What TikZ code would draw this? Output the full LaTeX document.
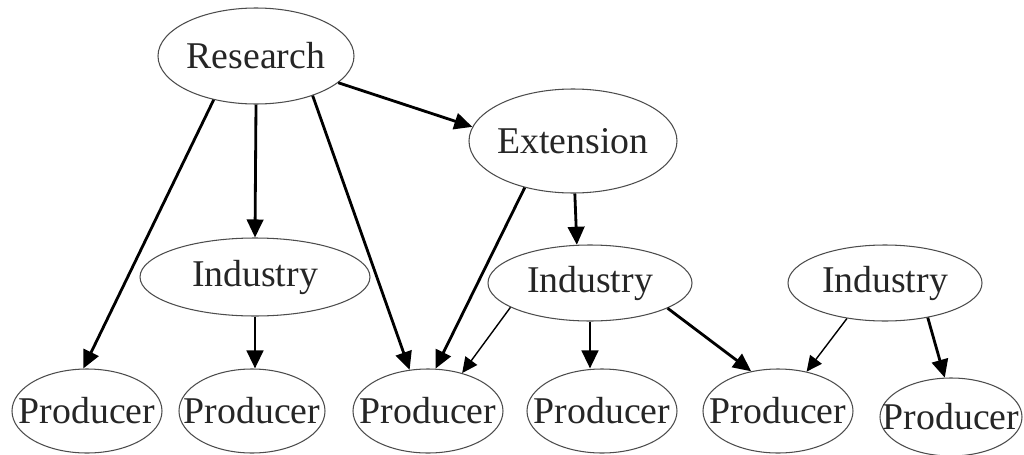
\documentclass[tikz,border=0pt]{standalone}
\usepackage{fontspec}
\setmainfont{Liberation Serif}
\usetikzlibrary{arrows.meta,shapes.geometric}

\newcommand{\nm}[1]{\makebox[0pt]{#1}}

\begin{document}
\begin{tikzpicture}[x=0.2mm, y=-0.2mm,
		blob/.style={ellipse, draw=black!70, line width=0.6pt, inner sep=0pt, text=black!85, font=\fontsize{21.5}{24}\selectfont},
		link/.style={line width=1.6pt, -{Triangle[length=3.6mm, width=3.3mm]}},
		thinlink/.style={line width=0.8pt, -{Triangle[length=3.1mm, width=2.9mm]}}]
	\useasboundingbox (0,0) rectangle (1024,455);

	%%draw the top nodes
	\node[blob, minimum width=3.92cm, minimum height=1.92cm] (research) at (256,56){\nm{Research}};
	\node[blob, minimum width=4.16cm, minimum height=2.08cm] (extension) at (573,141){\nm{Extension}};

	%%draw the industries
	\node[blob, minimum width=4.6cm, minimum height=1.56cm] (industryA) at (255,277){\nm{Industry}};
	\node[blob, minimum width=4.08cm, minimum height=1.52cm] (industryB) at (590,283){\nm{Industry}};
	\node[blob, minimum width=3.88cm, minimum height=1.52cm] (industryC) at (885,283){\nm{Industry}};

	%%draw the producers
	\node[blob, minimum width=3cm, minimum height=1.68cm] (producerA) at (87,411){\nm{Producer}};
	\node[blob, minimum width=2.92cm, minimum height=1.68cm] (producerB) at (252,411){\nm{Producer}};
	\node[blob, minimum width=3cm, minimum height=1.68cm] (producerC) at (428,411){\nm{Producer}};
	\node[blob, minimum width=3cm, minimum height=1.68cm] (producerD) at (602,411){\nm{Producer}};
	\node[blob, minimum width=3cm, minimum height=1.68cm] (producerE) at (778,411){\nm{Producer}};
	\node[blob, minimum width=2.84cm, minimum height=1.56cm] (producerF) at (951,417){\nm{Producer}};

	%%research's arrows
	\draw[link] (research.-134) -- (producerA.95);
	\draw[link] (research.south) -- (industryA.north);
	\draw[link] (research.-35) -- (producerC.114);
	\draw[link] (research.-18) -- (extension.172);
	%%extension's arrows
	\draw[link] (extension.224) -- (producerC.80);
	\draw[link] (extension.272) -- (industryB.109);
	%%industries' arrows
	\draw[link] (industryA.south) -- (industryA.south |- producerB.north);
	\draw[thinlink] (industryB.197) -- (producerC.48);
	\draw[link] (industryB.south) -- (industryB.south |- producerD.north);
	\draw[link] (industryB.-18) -- (producerE.124);
	\draw[thinlink] (industryC.223) -- (producerE.54);
	\draw[link] (industryC.321) -- (producerF.99);
\end{tikzpicture}
\end{document}
